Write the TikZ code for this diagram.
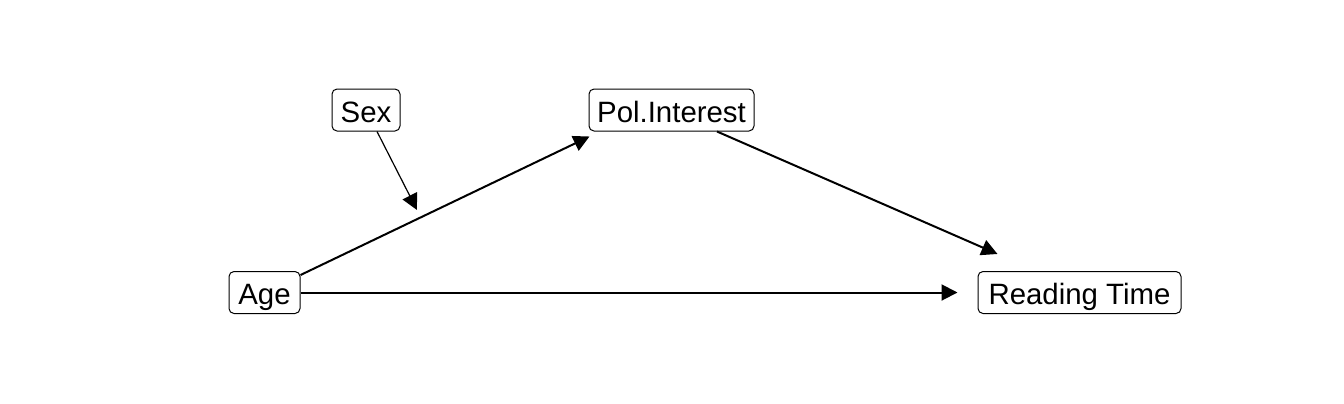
\documentclass[tikz,border=0pt]{standalone}
\usepackage{fontspec}
\setmainfont{Liberation Sans}
\usetikzlibrary{arrows.meta,calc}
\begin{document}
\begin{tikzpicture}[x=0.5pt,y=-0.5pt,
  var/.style={draw=black,line width=0.5pt,rounded corners=2.5pt,minimum height=21pt,inner sep=0pt,text height=12pt,text depth=0pt,font=\fontsize{14.7}{16}\selectfont,text=black},
  arr/.style={line width=1pt,-{Triangle[length=8pt,width=8pt]}},
  thinarr/.style={line width=0.6pt,-{Triangle[length=8pt,width=8pt]}}]
\useasboundingbox (0,0) rectangle (1344,403);
\node[var,minimum width=34pt] (Sex) at (366,110) {Sex};
\node[var,minimum width=82.5pt] (Pol) at (671.5,110) {Pol.Interest};
\node[var,minimum width=35.5pt] (Age) at (264.5,292.5) {Age};
\node[var,minimum width=101.5pt] (RT) at (1079.5,292.5) {Reading Time};
\coordinate (mid) at (417,210);
\draw[arr] ($(Age.north east)+(0,4)$) -- ($(Pol.south west)+(1,5)$);
\draw[arr] (Age.east) -- ($(RT.west)+(-20,0)$);
\draw[arr] ($(Pol.south)+(45.5,0)$) -- ($(RT.north west)+(20,-17)$);
\draw[thinarr] ($(Sex.south)+(11,0)$) -- (mid);
\end{tikzpicture}
\end{document}
